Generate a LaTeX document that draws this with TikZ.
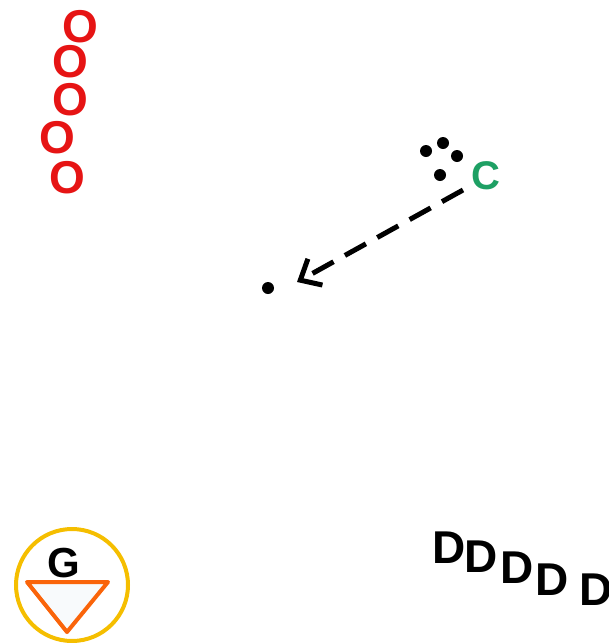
\documentclass[tikz,border=0pt]{standalone}
\usepackage{fontspec}
\setmainfont{Liberation Sans}
\usetikzlibrary{arrows.meta}
\definecolor{ored}{RGB}{230,20,20}
\definecolor{cgreen}{RGB}{30,160,100}
\definecolor{ringyel}{RGB}{245,190,0}
\definecolor{triorange}{RGB}{250,100,10}
\definecolor{trifill}{RGB}{248,250,252}
\tikzset{
  bigletter/.style={inner sep=0pt, font=\fontsize{46}{46}\selectfont\bfseries},
  oletter/.style={bigletter, text=ored},
  dletter/.style={bigletter, text=black},
  blackdot/.style={circle, fill=black, inner sep=0pt, minimum size=12pt},
}
\begin{document}
\begin{tikzpicture}[x=1pt,y=-1pt]
\useasboundingbox (0,0) rectangle (609,643);
% O letters
\node[oletter] (o1) at (80,27) {O};
\node[oletter] (o2) at (70,62) {O};
\node[oletter] (o3) at (70,100) {O};
\node[oletter] (o4) at (57,138) {O};
\node[oletter] (o5) at (67,178) {O};
% dots and C
\node[blackdot] (d1) at (426,151) {};
\node[blackdot] (d2) at (443,143) {};
\node[blackdot] (d3) at (457,156) {};
\node[blackdot] (d4) at (440,175) {};
\node[inner sep=0pt, text=cgreen, font=\fontsize{40}{40}\selectfont\bfseries] (c) at (486,176) {C};
% arrow
\node[blackdot] (p) at (268,288) {};
\coordinate (as) at (463,190);
\coordinate (ae) at (297,282);
\draw[line width=5pt, dash pattern=on 24pt off 13pt, -{Straight Barb[length=17pt,width=30pt,line width=5pt]}] (as) -- (ae);
% G symbol
\node[circle, draw=ringyel, line width=4pt, minimum size=112pt, inner sep=0pt] (g) at (72,585) {};
\draw[triorange, fill=trifill, line width=4pt, line join=round] (27,582) -- (108,582) -- (67,632) -- cycle;
\node[inner sep=0pt, font=\fontsize{42}{42}\selectfont\bfseries] (gl) at (64,563) {G};
% D letters
\node[dletter] (e1) at (449,548) {D};
\node[dletter] (e2) at (481,557) {D};
\node[dletter] (e3) at (517,568) {D};
\node[dletter] (e4) at (552,580) {D};
\node[dletter] (e5) at (596,590) {D};
\end{tikzpicture}
\end{document}
